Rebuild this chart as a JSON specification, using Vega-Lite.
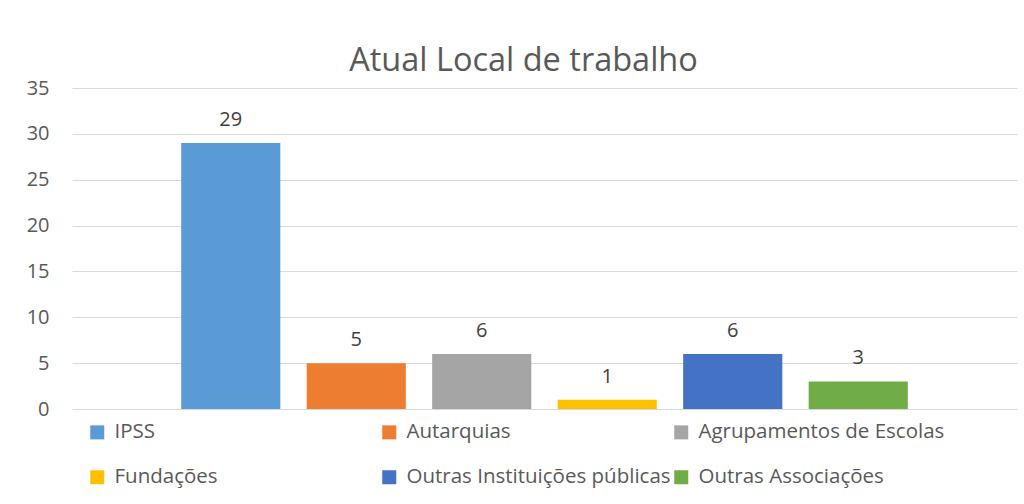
{
  "$schema": "https://vega.github.io/schema/vega-lite/v6.json",
  "autosize": {"type": "none"},
  "width": 945,
  "height": 321,
  "padding": {"left": 72, "top": 88, "right": 7, "bottom": 95},
  "background": "#ffffff",
  "title": {
    "text": "Atual Local de trabalho",
    "fontSize": 32.5,
    "font": "Open Sans",
    "fontWeight": "normal",
    "color": "#595959",
    "anchor": "middle",
    "dx": -21,
    "offset": 1
  },
  "config": {
    "view": {"stroke": null},
    "font": "Open Sans"
  },
  "data": {
    "values": [
      {"local": "IPSS", "n": 29},
      {"local": "Autarquias", "n": 5},
      {"local": "Agrupamentos de Escolas", "n": 6},
      {"local": "Fundações", "n": 1},
      {"local": "Outras Instituições públicas", "n": 6},
      {"local": "Outras Associações", "n": 3}
    ]
  },
  "encoding": {
    "x": {
      "field": "local",
      "type": "nominal",
      "sort": null,
      "axis": null,
      "scale": {"paddingInner": 0.21, "paddingOuter": 0.87}
    },
    "y": {
      "field": "n",
      "type": "quantitative",
      "scale": {"domain": [0, 35], "nice": false},
      "axis": {
        "title": null,
        "values": [0, 5, 10, 15, 20, 25, 30, 35],
        "domain": false,
        "ticks": false,
        "labelFontSize": 20,
        "labelColor": "#595959",
        "labelFont": "Open Sans",
        "labelPadding": 23,
        "gridColor": "#D9D9D9",
        "gridWidth": 1
      }
    }
  },
  "layer": [
    {
      "mark": {"type": "bar"},
      "encoding": {
        "color": {
          "field": "local",
          "type": "nominal",
          "scale": {
            "domain": ["IPSS", "Fundações", "Autarquias", "Outras Instituições públicas", "Agrupamentos de Escolas", "Outras Associações"],
            "range": ["#5B9BD5", "#FFC000", "#ED7D31", "#4472C4", "#A5A5A5", "#70AD47"]
          },
          "legend": {
            "title": null,
            "orient": "none",
            "legendX": 15,
            "legendY": 334,
            "columns": 3,
            "gridAlign": "all",
            "columnPadding": -7,
            "rowPadding": 24,
            "symbolType": "square",
            "symbolSize": 196,
            "symbolStrokeWidth": 0,
            "symbolOpacity": 1,
            "labelFontSize": 20.5,
            "labelFont": "Open Sans",
            "labelColor": "#595959",
            "labelOffset": 7,
            "labelLimit": 400
          }
        }
      }
    },
    {
      "mark": {"type": "text", "baseline": "alphabetic", "dy": -17, "fontSize": 20, "font": "Open Sans", "color": "#404040"},
      "encoding": {
        "text": {"field": "n", "type": "quantitative"}
      }
    }
  ]
}
